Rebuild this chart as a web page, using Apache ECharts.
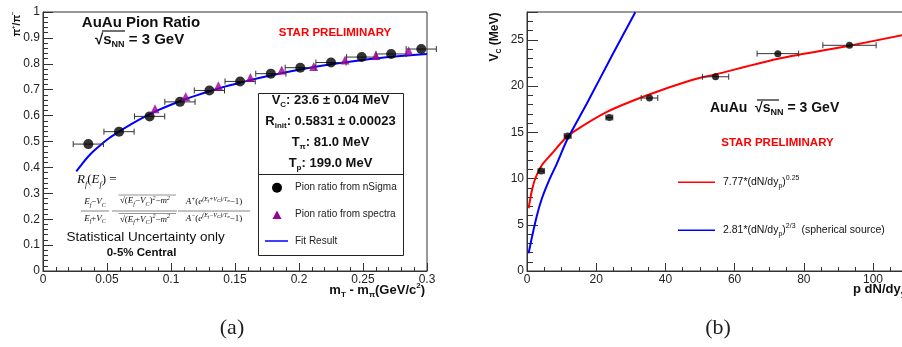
<!DOCTYPE html>
<html><head><meta charset="utf-8">
<script src="https://cdn.jsdelivr.net/npm/echarts@6/dist/echarts.min.js"></script>
<style>html,body{margin:0;padding:0;background:#fff}#c{width:902px;height:347px}</style>
</head><body><div id="c"></div>
<script>
// ---------- Panel (a): pi+/pi- ratio ----------
const aNsigmaX = [0.0354, 0.0594, 0.0833, 0.107, 0.130, 0.154, 0.178, 0.201, 0.225, 0.249, 0.272, 0.2955];
const aNsigmaY = [0.490, 0.538, 0.597, 0.653, 0.697, 0.732, 0.762, 0.785, 0.805, 0.826, 0.838, 0.857];
const aNsigmaXErr = [0.0118, 0.0118, 0.0118, 0.0118, 0.0118, 0.0118, 0.0118, 0.0118, 0.0118, 0.0118, 0.0118, 0.0118];
const aSpectraX = [0.0875, 0.1115, 0.137, 0.162, 0.1865, 0.2115, 0.236, 0.260, 0.2857];
const aSpectraY = [0.626, 0.674, 0.715, 0.747, 0.776, 0.790, 0.815, 0.832, 0.850];
const aFitX = [0.026, 0.030, 0.035, 0.040, 0.050, 0.060, 0.070, 0.080, 0.090, 0.100, 0.110, 0.120, 0.130, 0.140, 0.150, 0.160, 0.175, 0.200, 0.225, 0.250, 0.275, 0.300];
const aFitY = [0.385, 0.410, 0.440, 0.465, 0.507, 0.540, 0.570, 0.597, 0.621, 0.642, 0.661, 0.678, 0.694, 0.709, 0.722, 0.735, 0.752, 0.777, 0.798, 0.815, 0.828, 0.838];

// ---------- Panel (b): Vc vs proton dN/dy ----------
const bX = [4.1, 11.75, 23.8, 35.4, 54.5, 72.5, 93.2];
const bY = [10.8, 14.6, 16.6, 18.7, 21.0, 23.5, 24.4];
const bXErr = [0.9, 1.0, 1.0, 2.4, 3.8, 6.0, 7.7];
const bRedX = [0.46, 1.45, 2.4, 4.33, 7.2, 10.6, 13.5, 23.1, 34.7, 47.2, 54.4, 73.2, 93.2, 108.5];
const bRedY = [6.78, 8.76, 10.0, 11.46, 12.7, 14.16, 15.06, 17.2, 19.0, 20.6, 21.25, 23.0, 24.36, 25.5];
const bBlueX = [0.46, 1.45, 2.8, 4.33, 6.5, 8.67, 11.56, 17.3, 25.0, 31.3];
const bBlueY = [1.9, 3.7, 5.9, 7.86, 9.9, 11.64, 14.16, 18.1, 23.6, 27.97];

const zip = (xs, ys) => xs.map((x, i) => [x, ys[i]]);
const zip3 = (xs, ys, es) => xs.map((x, i) => [x, ys[i], es[i]]);

const SANS = 'Liberation Sans';
const SERIF = 'Liberation Serif';

function errRender(params, api) {
  const x = api.value(0), y = api.value(1), e = api.value(2);
  const p1 = api.coord([x - e, y]), p2 = api.coord([x + e, y]);
  const st = { stroke: '#333', lineWidth: 1 };
  return { type: 'group', children: [
    { type: 'line', shape: { x1: p1[0], y1: p1[1], x2: p2[0], y2: p2[1] }, style: st },
    { type: 'line', shape: { x1: p1[0], y1: p1[1] - 3, x2: p1[0], y2: p1[1] + 3 }, style: st },
    { type: 'line', shape: { x1: p2[0], y1: p2[1] - 3, x2: p2[0], y2: p2[1] + 3 }, style: st }
  ]};
}

function axisCommon(extra) {
  return Object.assign({
    type: 'value',
    axisLine: { show: true, onZero: false, lineStyle: { color: '#333', width: 1 } },
    splitLine: { show: false },
    axisLabel: { fontFamily: SANS, fontSize: 12, color: '#222', margin: 3, showMinLabel: true, showMaxLabel: true },
  }, extra);
}

function T(x, y, text, o) {
  o = o || {};
  return {
    type: 'text', x: x, y: y, rotation: o.rotation || 0, z: 10,
    style: {
      text: text,
      fontFamily: o.family || SANS, fontSize: o.size || 12,
      fontWeight: o.weight || 'normal', fontStyle: o.style || 'normal',
      fill: o.color || '#111', align: o.align || 'left', verticalAlign: o.valign || 'middle',
      rich: o.rich
    }
  };
}
function L(x1, y1, x2, y2, color, w) {
  return { type: 'line', z: 10, shape: { x1, y1, x2, y2 }, style: { stroke: color, lineWidth: w || 1 } };
}

function richSet(size, weight, family, style, color) {
  const base = { fontSize: size, fontWeight: weight, fontFamily: family, fontStyle: style || 'normal', color: color || '#111' };
  return {
    b: Object.assign({}, base, { lineHeight: size + 4 }),
    sub: Object.assign({}, base, { fontSize: Math.round(size * 0.62), verticalAlign: 'bottom', lineHeight: size + 4 }),
    sup: Object.assign({}, base, { fontSize: Math.round(size * 0.62), verticalAlign: 'top', lineHeight: size + 4 }),
  };
}
const fGray = '#666';
const fRich = {
  i: { fontFamily: SERIF, fontStyle: 'italic', fontSize: 9, color: fGray, lineHeight: 12 },
  n: { fontFamily: SERIF, fontSize: 9, color: fGray, lineHeight: 12 },
  is: { fontFamily: SERIF, fontStyle: 'italic', fontSize: 6, color: fGray, verticalAlign: 'bottom', lineHeight: 12 },
  sp: { fontFamily: SERIF, fontStyle: 'italic', fontSize: 6, color: fGray, verticalAlign: 'top', lineHeight: 12 },
  sps: { fontFamily: SERIF, fontStyle: 'italic', fontSize: 5, color: fGray, verticalAlign: 'top', lineHeight: 12, padding: [2, 0, 0, 0] }
};
const rfRich = {
  a: { fontFamily: SERIF, fontStyle: 'italic', fontSize: 13, color: '#555', lineHeight: 17 },
  s: { fontFamily: SERIF, fontStyle: 'italic', fontSize: 8, color: '#555', verticalAlign: 'bottom', lineHeight: 17 },
  n: { fontFamily: SERIF, fontSize: 13, color: '#555', lineHeight: 17 }
};

const graphics = [
  // Panel (a) labels
  T(141, 22.5, 'AuAu Pion Ratio', { size: 15, weight: 'bold', align: 'center' }),
  T(95, 40, '{b|√s}{sub|NN}{b| = 3 GeV}', { rich: richSet(15, 'bold', SANS) }),
  L(102, 31, 125, 31, '#111', 1.2),
  T(335, 32.5, 'STAR PRELIMINARY', { size: 11.5, weight: 'bold', color: '#ff0000', align: 'center' }),
  // stats box
  { type: 'rect', z: 9, shape: { x: 258.5, y: 93.5, width: 145, height: 162 }, style: { fill: '#fff', stroke: '#222', lineWidth: 1 } },
  L(258.5, 174.5, 403.5, 174.5, '#222', 1),
  T(330.5, 100, '{b|V}{sub|C}{b|: 23.6 ± 0.04 MeV}', { align: 'center', rich: richSet(13, 'bold', SANS) }),
  T(330.5, 121.5, '{b|R}{sub|init}{b|: 0.5831 ± 0.00023}', { align: 'center', rich: richSet(13, 'bold', SANS) }),
  T(330.5, 142.5, '{b|T}{sub|π}{b|: 81.0 MeV}', { align: 'center', rich: richSet(13, 'bold', SANS) }),
  T(330.5, 163, '{b|T}{sub|p}{b|: 199.0 MeV}', { align: 'center', rich: richSet(13, 'bold', SANS) }),
  { type: 'circle', z: 10, shape: { cx: 277, cy: 187.7, r: 5 }, style: { fill: '#000' } },
  T(295, 187.5, 'Pion ratio from nSigma', { size: 10, color: '#222' }),
  { type: 'polygon', z: 10, shape: { points: [[277, 210.5], [272.5, 219], [281.5, 219]] }, style: { fill: '#990099' } },
  T(295, 214.5, 'Pion ratio from spectra', { size: 10, color: '#222' }),
  L(265, 241, 288, 241, '#0000ff', 1.5),
  T(295, 241, 'Fit Result', { size: 10, color: '#222' }),
  // formula
  T(77, 180, '{a|R}{s|f}{n|(}{a|E}{s|f}{n|) =}', { rich: rfRich }),
  T(95, 202, '{i|E}{is|f}{n|−}{i|V}{is|C}', { align: 'center', rich: fRich }),
  L(81, 211, 109, 211, fGray, 0.8),
  T(95, 218.5, '{i|E}{is|f}{n|+}{i|V}{is|C}', { align: 'center', rich: fRich }),
  T(145, 201, '{n|√(}{i|E}{is|f}{n|−}{i|V}{is|C}{n|)}{sp|2}{n|−}{i|m}{sp|2}', { align: 'center', rich: fRich }),
  L(118.5, 195, 176, 195, fGray, 0.7),
  L(112, 211, 177, 211, fGray, 0.8),
  T(145, 219.5, '{n|√(}{i|E}{is|f}{n|+}{i|V}{is|C}{n|)}{sp|2}{n|−}{i|m}{sp|2}', { align: 'center', rich: fRich }),
  L(118.5, 213.5, 176, 213.5, fGray, 0.7),
  T(214, 202, '{i|A}{sp|+}{n|(}{i|e}{sp|(E}{sps|f}{sp|+V}{sps|C}{sp|)/T}{sps|π}{n|−1)}', { align: 'center', rich: fRich }),
  L(178, 211, 250, 211, fGray, 0.8),
  T(214, 218.5, '{i|A}{sp|−}{n|(}{i|e}{sp|(E}{sps|f}{sp|−V}{sps|C}{sp|)/T}{sps|π}{n|−1)}', { align: 'center', rich: fRich }),
  T(66.5, 237.5, 'Statistical Uncertainty only', { size: 13.5, color: '#111' }),
  T(141.5, 252.7, '0-5% Central', { size: 11.5, weight: 'bold', align: 'center' }),
  // axis titles (a)
  T(425, 290, '{b|m}{sub|T}{b| - m}{sub|π}{b|(GeV/c}{sup|2}{b|)}', { align: 'right', rich: richSet(13, 'bold', SANS) }),
  T(17, 24, '{b|π}{sup|+}{b|/π}{sup|−}', { align: 'center', rotation: Math.PI / 2, rich: richSet(10, 'bold', SANS) }),

  // Panel (b) labels
  T(495, 37, '{b|V}{sub|C}{b| (MeV)}', { align: 'center', rotation: Math.PI / 2, rich: richSet(12, 'bold', SANS) }),
  T(853, 289, '{b|p dN/dy}{sub|y=0}', { rich: richSet(13, 'bold', SANS) }),
  T(710, 108.3, '{b|AuAu  √s}{sub|NN}{b| = 3 GeV}', { rich: richSet(14, 'bold', SANS) }),
  L(757, 100, 779, 100, '#111', 1.2),
  T(777.5, 143, 'STAR PRELIMINARY', { size: 11.5, weight: 'bold', color: '#ff0000', align: 'center' }),
  L(678, 182.3, 715, 182.3, '#ff0000', 1.5),
  T(723, 182, '{b|7.77*(dN/dy}{sub|p}{b|)}{sup|0.25}', { rich: richSet(10.5, 'normal', SANS, 'normal', '#222') }),
  L(678, 230.3, 715, 230.3, '#0000ff', 1.5),
  T(723, 230, '{b|2.81*(dN/dy}{sub|p}{b|)}{sup|2/3}{b|  (spherical source)}', { rich: richSet(10.5, 'normal', SANS, 'normal', '#222') }),

  // captions
  T(232, 328, '(a)', { family: SERIF, size: 22, align: 'center', color: '#222' }),
  T(718, 328, '(b)', { family: SERIF, size: 22, align: 'center', color: '#222' }),
];

const chart = echarts.init(document.getElementById('c'), null, { renderer: 'canvas' });
chart.setOption({
  animation: false,
  backgroundColor: '#fff',
  grid: [
    { left: 43, top: 12, width: 384, height: 259, show: true, borderColor: '#333', borderWidth: 1, backgroundColor: 'transparent', outerBoundsMode: 'none', containLabel: false },
    { left: 527, top: 12, width: 415.2, height: 259, show: true, borderColor: '#333', borderWidth: 1, backgroundColor: 'transparent', outerBoundsMode: 'none', containLabel: false }
  ],
  xAxis: [
    axisCommon({ gridIndex: 0, min: 0, max: 0.3, interval: 0.05,
      axisTick: { show: true, inside: true, length: 8, lineStyle: { color: '#333' } },
      minorTick: { show: true, splitNumber: 5, length: 4, lineStyle: { color: '#333' } } }),
    axisCommon({ gridIndex: 1, min: 0, max: 120, interval: 20,
      axisTick: { show: true, inside: true, length: 8, lineStyle: { color: '#333' } },
      minorTick: { show: true, splitNumber: 4, length: 4, lineStyle: { color: '#333' } } })
  ],
  yAxis: [
    axisCommon({ gridIndex: 0, min: 0, max: 1, interval: 0.1,
      axisTick: { show: true, inside: true, length: 10, lineStyle: { color: '#333' } },
      minorTick: { show: true, splitNumber: 5, length: 5, lineStyle: { color: '#333' } } }),
    axisCommon({ gridIndex: 1, min: 0, max: 28, interval: 5,
      axisLabel: { fontFamily: SANS, fontSize: 12, color: '#222', margin: 3, showMinLabel: true, showMaxLabel: false },
      axisTick: { show: true, inside: true, length: 11, lineStyle: { color: '#333' } },
      minorTick: { show: true, splitNumber: 5, length: 6, lineStyle: { color: '#333' } } })
  ],
  series: [
    { type: 'line', xAxisIndex: 0, yAxisIndex: 0, data: zip(aFitX, aFitY), showSymbol: false, smooth: 0.3,
      lineStyle: { color: '#0000ff', width: 2 }, z: 2 },
    { type: 'custom', xAxisIndex: 0, yAxisIndex: 0, data: zip3(aNsigmaX, aNsigmaY, aNsigmaXErr), renderItem: errRender,
      encode: { x: 0, y: 1 }, z: 3 },
    { type: 'scatter', xAxisIndex: 0, yAxisIndex: 0, data: zip(aNsigmaX, aNsigmaY), symbol: 'circle', symbolSize: 10,
      itemStyle: { color: '#000' }, z: 4 },
    { type: 'scatter', xAxisIndex: 0, yAxisIndex: 0, data: zip(aSpectraX, aSpectraY), symbol: 'triangle', symbolSize: 9,
      itemStyle: { color: '#990099' }, z: 5 },

    { type: 'line', xAxisIndex: 1, yAxisIndex: 1, data: zip(bRedX, bRedY), showSymbol: false, smooth: 0.25,
      lineStyle: { color: '#ff0000', width: 2 }, z: 2 },
    { type: 'line', xAxisIndex: 1, yAxisIndex: 1, data: zip(bBlueX, bBlueY), showSymbol: false, smooth: 0.3,
      lineStyle: { color: '#0000ff', width: 2 }, z: 2 },
    { type: 'custom', xAxisIndex: 1, yAxisIndex: 1, data: zip3(bX, bY, bXErr), renderItem: errRender,
      encode: { x: 0, y: 1 }, z: 3 },
    { type: 'scatter', xAxisIndex: 1, yAxisIndex: 1, data: zip(bX, bY), symbol: 'circle', symbolSize: 7,
      itemStyle: { color: '#000' }, z: 4 }
  ],
  graphic: { elements: graphics }
});
</script>
</body></html>
